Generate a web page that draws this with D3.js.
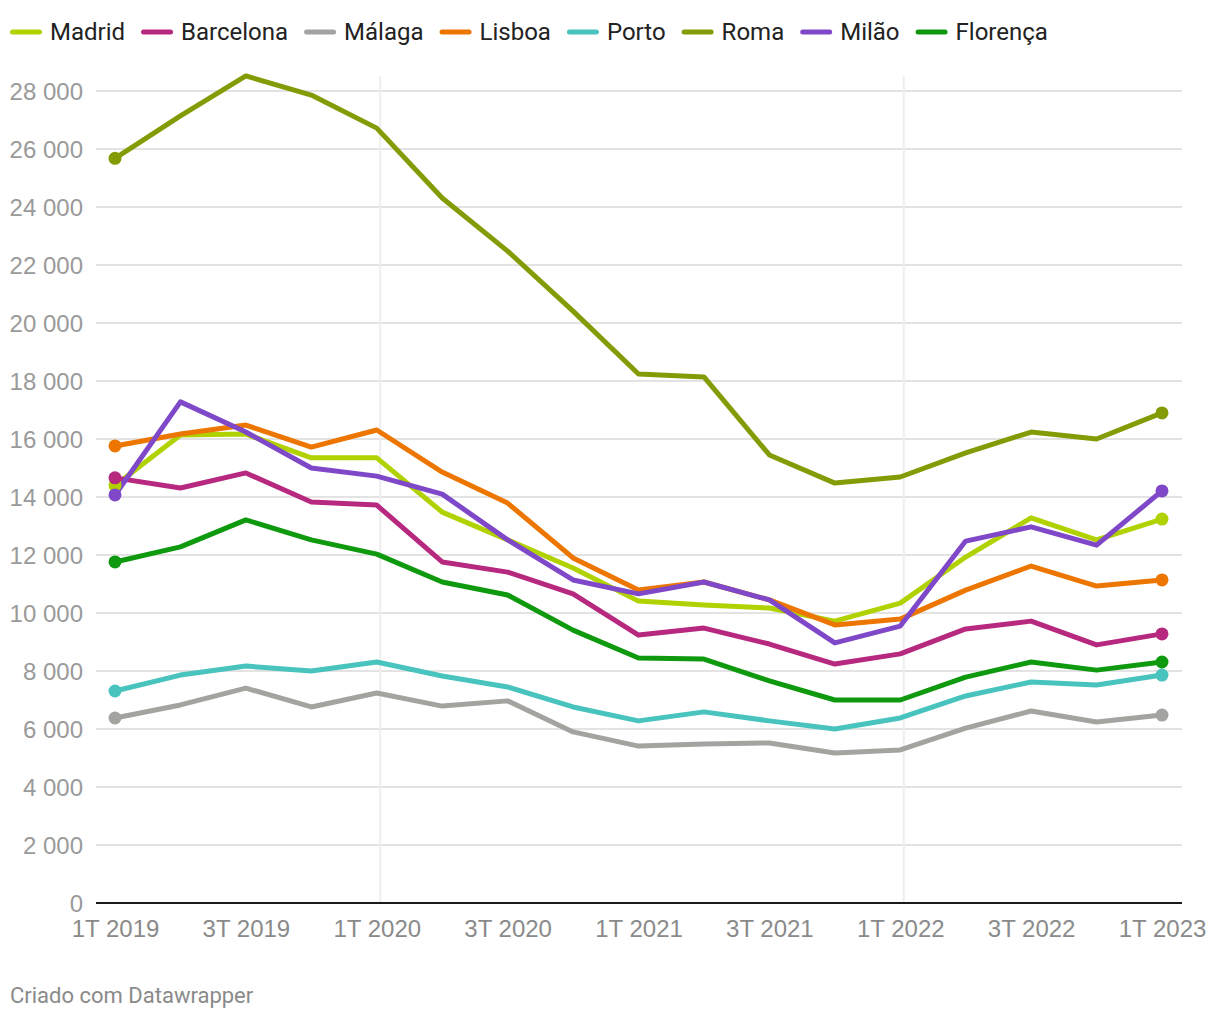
<!DOCTYPE html>
<html>
<head>
<meta charset="utf-8">
<script src="https://cdn.jsdelivr.net/npm/d3@7"></script>
<style>
  html, body { margin: 0; padding: 0; background: #fff; }
  svg { display: block; font-family: Roboto, "Noto Sans", sans-serif; }
</style>
</head>
<body>
<svg id="chart" width="1220" height="1020"></svg>
<script>
const quarters = ["1T 2019","2T 2019","3T 2019","4T 2019","1T 2020","2T 2020","3T 2020","4T 2020","1T 2021","2T 2021","3T 2021","4T 2021","1T 2022","2T 2022","3T 2022","4T 2022","1T 2023"];
const xTickLabels = ["1T 2019","3T 2019","1T 2020","3T 2020","1T 2021","3T 2021","1T 2022","3T 2022","1T 2023"];
const yTicks = [0,2000,4000,6000,8000,10000,12000,14000,16000,18000,20000,22000,24000,26000,28000];
const verticalGridQuarters = ["1T 2020","1T 2022"];

const cities = ["Madrid","Barcelona","Málaga","Lisboa","Porto","Roma","Milão","Florença"];
const colors = ["#b1d100","#b7287f","#a3a3a0","#ec7600","#48c3be","#859b06","#7f48c8","#0f990f"];

const madrid    = [14400,16140,16170,15350,15350,13480,12520,11550,10410,10280,10170,9720,10340,11930,13280,12520,13240];
const barcelona = [14660,14310,14830,13830,13720,11760,11410,10660,9240,9480,8930,8240,8590,9450,9720,8900,9280];
const malaga    = [6380,6830,7410,6760,7240,6790,6970,5900,5410,5480,5520,5170,5280,6030,6620,6240,6480];
const lisboa    = [15760,16170,16480,15720,16310,14860,13790,11900,10790,11070,10450,9590,9790,10790,11620,10930,11140];
const porto     = [7310,7860,8170,8000,8310,7830,7450,6760,6280,6590,6280,6000,6380,7140,7620,7520,7860];
const roma      = [25680,27140,28520,27860,26720,24310,22480,20410,18240,18140,15450,14480,14690,15520,16240,16000,16900];
const milao     = [14070,17280,16240,15000,14720,14100,12520,11140,10660,11070,10450,8970,9550,12480,12970,12340,14210];
const florenca  = [11760,12280,13210,12520,12030,11070,10620,9410,8450,8410,7660,7000,7000,7790,8310,8030,8310];

const seriesValues = [madrid, barcelona, malaga, lisboa, porto, roma, milao, florenca];

const svg = d3.select("#chart");
const plot = {left: 96, right: 1182, top: 76, bottom: 903};

const x = d3.scalePoint().domain(quarters).range([115, 1162]);
const y = d3.scaleLinear().domain([0, 28000]).range([plot.bottom, plot.bottom - 812]);

// y axis labels
const yAxis = d3.axisLeft(y).tickValues(yTicks).tickSize(0).tickPadding(14)
  .tickFormat(v => d3.format(",")(v).replace(/,/g, " "));
const gy = svg.append("g").attr("transform", `translate(${plot.left},0)`).call(yAxis);
gy.select(".domain").remove();
gy.selectAll("text").attr("fill", "#9a9a9a").style("font-size", "24px").attr("x", -13).attr("dy", "0.35em");

// horizontal grid
svg.append("g").selectAll("line.hgrid").data(yTicks.filter(d => d > 0)).join("line")
  .attr("x1", plot.left).attr("x2", plot.right)
  .attr("y1", d => y(d)).attr("y2", d => y(d))
  .attr("stroke", "#e3e3e3").attr("stroke-width", 2);

// vertical grid
svg.append("g").selectAll("line.vgrid").data(verticalGridQuarters).join("line")
  .attr("x1", d => x(d) + 3.5).attr("x2", d => x(d) + 3.5)
  .attr("y1", plot.top).attr("y2", plot.bottom)
  .attr("stroke", "#eeeeee").attr("stroke-width", 2);

// baseline
svg.append("line").attr("x1", plot.left).attr("x2", plot.right)
  .attr("y1", y(0)).attr("y2", y(0)).attr("stroke", "#1a1a1a").attr("stroke-width", 2);

// x axis labels
const xAxis = d3.axisBottom(x).tickValues(xTickLabels).tickSize(0).tickPadding(17);
const gx = svg.append("g").attr("transform", `translate(0,${plot.bottom})`).call(xAxis);
gx.select(".domain").remove();
gx.selectAll("text").attr("fill", "#8a8a8a").style("font-size", "24px");

// lines
const line = d3.line().x((d, i) => x(quarters[i])).y(d => y(d)).curve(d3.curveLinear);
const g = svg.append("g");
seriesValues.forEach((vals, si) => {
  g.append("path").datum(vals).attr("d", line)
    .attr("fill", "none").attr("stroke", colors[si]).attr("stroke-width", 5)
    .attr("stroke-linejoin", "round").attr("stroke-linecap", "round");
});
seriesValues.forEach((vals, si) => {
  [0, vals.length - 1].forEach(i => {
    g.append("circle").attr("cx", x(quarters[i])).attr("cy", y(vals[i])).attr("r", 6.5)
      .attr("fill", colors[si]);
  });
});

// legend
const leg = svg.append("g");
let lx = 10;
cities.forEach((c, i) => {
  leg.append("line").attr("x1", lx + 2.5).attr("x2", lx + 29.5).attr("y1", 32).attr("y2", 32)
    .attr("stroke", colors[i]).attr("stroke-width", 5).attr("stroke-linecap", "round");
  const t = leg.append("text").attr("x", lx + 40).attr("y", 32).attr("dy", "0.35em")
    .attr("fill", "#222").style("font-size", "24px").text(c);
  lx = lx + 40 + t.node().getComputedTextLength() + 16;
});

// footer
svg.append("text").attr("x", 10).attr("y", 1003).attr("fill", "#8a8a8a")
  .style("font-size", "22px").text("Criado com Datawrapper");
</script>
</body>
</html>
